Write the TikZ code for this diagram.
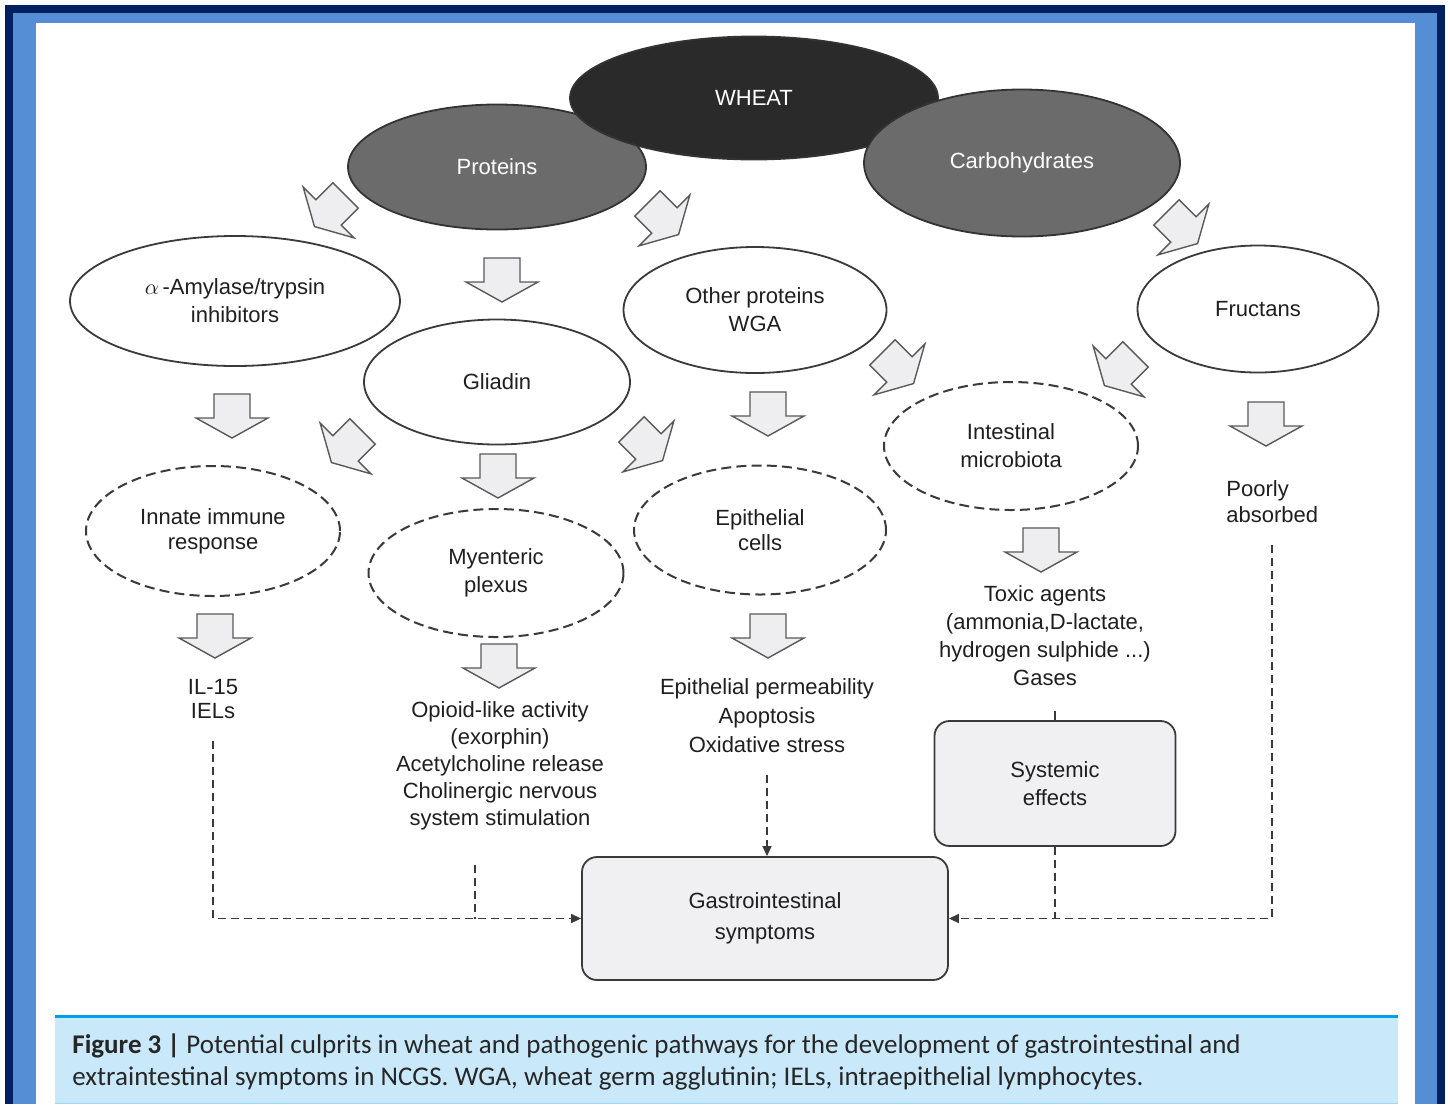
\documentclass[tikz,border=0pt]{standalone}
\usepackage{fontspec}
\setmainfont{Liberation Sans}
\newfontfamily\capfont{Carlito}
\usetikzlibrary{shapes.geometric,arrows.meta,positioning}

\definecolor{navyframe}{HTML}{002060}
\definecolor{blueframe}{HTML}{558ED5}
\definecolor{capfill}{HTML}{C9E9FA}
\definecolor{capline}{HTML}{00A0E6}
\definecolor{wheatfill}{HTML}{2A2A2A}
\definecolor{partfill}{HTML}{6B6B6B}
\definecolor{arrowfill}{HTML}{EEEEF1}
\definecolor{boxfill}{HTML}{F0F0F2}
\definecolor{inkgray}{HTML}{3A3A3A}

\tikzset{
  topell/.style={ellipse, draw=black!80, line width=0.9pt, inner sep=0pt, text=white},
  solidell/.style={ellipse, draw=inkgray, line width=0.9pt, fill=white, inner sep=0pt, align=center},
  dashell/.style={ellipse, draw=inkgray, line width=1pt, dash pattern=on 5pt off 2.6pt, inner sep=0pt, align=center},
  plain/.style={align=center, inner sep=1pt},
  effectbox/.style={rounded corners=7.5pt, draw=inkgray, line width=0.9pt, fill=boxfill, align=center},
  link/.style={draw=inkgray, line width=0.8pt, dash pattern=on 4pt off 2.5pt},
  tip/.style={-{Triangle[length=5pt,width=4.5pt]}},
  barrow/.pic={
    \draw[draw=black!65, fill=arrowfill, line width=0.7pt, line join=miter]
      (-18,-22) -- (18,-22) -- (18,2) -- (36,2) -- (0,22) -- (-36,2) -- (-18,2) -- cycle;
  },
}

\begin{document}
\begin{tikzpicture}[x=0.5pt,y=-0.5pt, font=\fontsize{11}{14}\selectfont, text=black!88]
  \useasboundingbox (0,0) rectangle (1450,1104);
  % frame
  \fill[navyframe] (5,5) rectangle (1445,1104);
  \fill[blueframe] (13,13) rectangle (1437,1104);
  \fill[white] (36,23) rectangle (1415,1104);

  % caption
  \fill[capfill] (55,1016) rectangle (1398,1104);
  \draw[capline, line width=1.5pt] (55,1016) -- (1398,1016);
  \draw[capline!40, line width=0.5pt] (55,1103) -- (1398,1103);
  \node[anchor=north west, align=left, inner sep=0pt, font=\capfont\fontsize{13.5}{16}\selectfont, text=black!85] (caption) at (72,1033)
    {\textbf{Figure 3 |} Potential culprits in wheat and pathogenic pathways for the development of gastrointestinal and\\
     extraintestinal symptoms in NCGS. WGA, wheat germ agglutinin; IELs, intraepithelial lymphocytes.};

  % sources
  \node[topell, fill=partfill, minimum width=149pt, minimum height=62.5pt] (proteins) at (497,167) {Proteins};
  \node[topell, fill=wheatfill, minimum width=184pt, minimum height=61.5pt] (wheat) at (754,98) {WHEAT};
  \node[topell, fill=partfill, minimum width=158pt, minimum height=73.5pt] (carbs) at (1022,163) {Carbohydrates};

  % components
  \node[solidell, minimum width=165pt, minimum height=65pt] (amylase) at (235,301) {$\alpha$\,-Amylase/trypsin\\inhibitors};
  \node[solidell, minimum width=133pt, minimum height=62.5pt] (gliadin) at (497,382) {Gliadin};
  \node[solidell, minimum width=131.5pt, minimum height=63pt] (otherprot) at (755,310) {Other proteins\\WGA};
  \node[solidell, minimum width=120.5pt, minimum height=63.5pt] (fructans) at (1258,309) {Fructans};

  % targets
  \node[dashell, minimum width=127pt, minimum height=65pt, font=\fontsize{11}{12.5}\selectfont] (innate) at (213,531) {Innate immune\\response};
  \node[dashell, minimum width=127.5pt, minimum height=64pt] (myenteric) at (496,573) {Myenteric\\plexus};
  \node[dashell, minimum width=126pt, minimum height=64.5pt, font=\fontsize{11}{12.5}\selectfont] (epicells) at (760,530) {Epithelial\\cells};
  \node[dashell, minimum width=127pt, minimum height=64pt] (microbiota) at (1011,446) {Intestinal\\microbiota};

  % effects
  \node[plain, font=\fontsize{11}{12}\selectfont] (il15) at (213,699) {IL-15\\IELs};
  \node[plain, font=\fontsize{11}{13.5}\selectfont] (opioid) at (500,766) {Opioid-like activity\\(exorphin)\\Acetylcholine release\\Cholinergic nervous\\system stimulation};
  \node[plain, font=\fontsize{11}{14.5}\selectfont] (epiperm) at (767,716) {Epithelial permeability\\Apoptosis\\Oxidative stress};
  \node[plain] (toxic) at (1045,636) {Toxic agents\\(ammonia,D-lactate,\\hydrogen sulphide ...)\\Gases};
  \node[plain, align=left, anchor=west, font=\fontsize{11}{13}\selectfont] (poorly) at (1224,502) {Poorly\\absorbed};

  \node[effectbox, minimum width=120.5pt, minimum height=62.5pt] (systemic) at (1055,783.5) {Systemic\\effects};
  \node[effectbox, minimum width=183pt, minimum height=61.5pt, font=\fontsize{11}{15.5}\selectfont] (gisympt) at (765,918.5) {Gastrointestinal\\symptoms};

  % block arrows
  \pic[rotate=-45] at (330,211) {barrow};
  \pic[rotate=45] at (663,219) {barrow};
  \pic[rotate=45] at (1182,228) {barrow};
  \pic at (502,280) {barrow};
  \pic at (232,416) {barrow};
  \pic[rotate=-45] at (347,447) {barrow};
  \pic at (498,476) {barrow};
  \pic[rotate=45] at (647,445) {barrow};
  \pic at (768,414) {barrow};
  \pic[rotate=45] at (898,368) {barrow};
  \pic[rotate=-45] at (1120,370) {barrow};
  \pic at (1266,424) {barrow};
  \pic at (215,636) {barrow};
  \pic at (499,666) {barrow};
  \pic at (768,636) {barrow};
  \pic at (1041,550) {barrow};

  % connectors
  \coordinate (opioidfoot) at (475,865);
  \draw[link, tip] ([yshift=-10pt]il15.south) |- (gisympt.west);
  \draw[link] (opioidfoot) -- (opioidfoot |- gisympt.west);
  \draw[link, tip] ([yshift=-10pt]epiperm.south) -- (epiperm.south |- gisympt.north);
  \draw[link, tip] ([yshift=-10pt]poorly.south) |- (gisympt.east);
  \draw[link] (systemic.south) -- (systemic.south |- gisympt.east);
  \draw[inkgray, line width=0.8pt] (systemic.north) -- ++(0,-9);
\end{tikzpicture}
\end{document}
